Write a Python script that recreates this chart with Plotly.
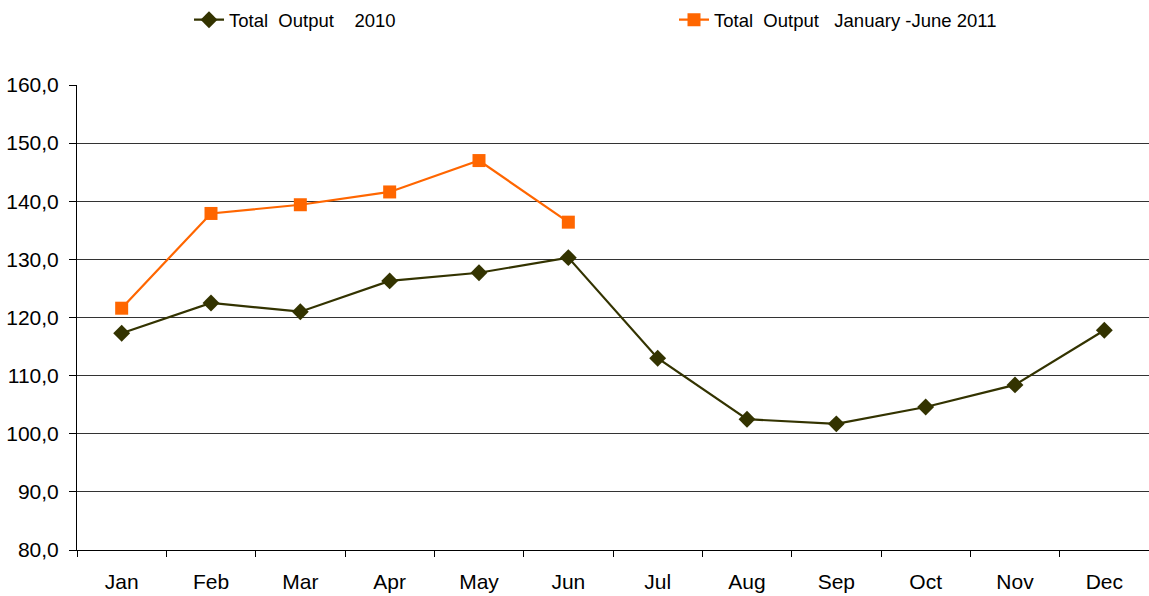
import plotly.graph_objects as go

months = ["Jan", "Feb", "Mar", "Apr", "May", "Jun", "Jul", "Aug", "Sep", "Oct", "Nov", "Dec"]
output_2010 = [117.3, 122.5, 121.0, 126.3, 127.7, 130.3, 113.0, 102.5, 101.7, 104.6, 108.4, 117.8]
months_2011 = ["Jan", "Feb", "Mar", "Apr", "May", "Jun"]
output_2011 = [121.6, 137.9, 139.4, 141.6, 147.0, 136.4]

NB = "\u00a0"
name_2010 = "Total" + NB * 2 + "Output" + NB * 4 + "2010"
name_2011 = "Total" + NB * 2 + "Output" + NB * 3 + "January -June 2011"

fig = go.Figure()
fig.add_trace(go.Scatter(
    x=months, y=output_2010, mode="lines+markers", name=name_2010,
    line=dict(color="#333300", width=2.2),
    marker=dict(symbol="diamond", size=13, color="#333300"),
))
fig.add_trace(go.Scatter(
    x=months_2011, y=output_2011, mode="lines+markers", name=name_2011,
    line=dict(color="#FF6600", width=2.2),
    marker=dict(symbol="square", size=13, color="#FF6600"),
))

fig.update_layout(
    width=1149, height=596,
    paper_bgcolor="white", plot_bgcolor="white",
    margin=dict(l=77, r=0, t=85, b=46),
    separators=",.",
    font=dict(family="Liberation Sans, Arial, sans-serif", size=21, color="black"),
    showlegend=True,
    legend=dict(
        orientation="h", x=0.1645, xanchor="left", y=0.998, yanchor="top",
        yref="container", xref="container",
        entrywidth=440, entrywidthmode="pixels",
        font=dict(size=18.5, color="black"),
        bgcolor="rgba(0,0,0,0)", tracegroupgap=0,
    ),
    xaxis=dict(
        type="category", categoryorder="array", categoryarray=months,
        range=[-0.5, 11.5],
        showline=True, linecolor="black", linewidth=1,
        ticks="outside", tickson="boundaries", ticklen=6, tickcolor="black",
        showgrid=False, zeroline=False,
        tickfont=dict(size=21), ticklabelstandoff=13,
    ),
    yaxis=dict(
        range=[80, 160], dtick=10, tick0=80, tickformat=".1f",
        showline=True, linecolor="black", linewidth=1,
        ticks="outside", ticklen=7, tickcolor="black",
        showgrid=True, gridcolor="#333333", gridwidth=1,
        zeroline=False,
        tickfont=dict(size=21), ticklabelstandoff=6,
    ),
)

fig.write_html(
    "out.html",
    config={"displayModeBar": False},
    post_script="document.body.style.margin='0';document.body.style.overflow='hidden';",
)
